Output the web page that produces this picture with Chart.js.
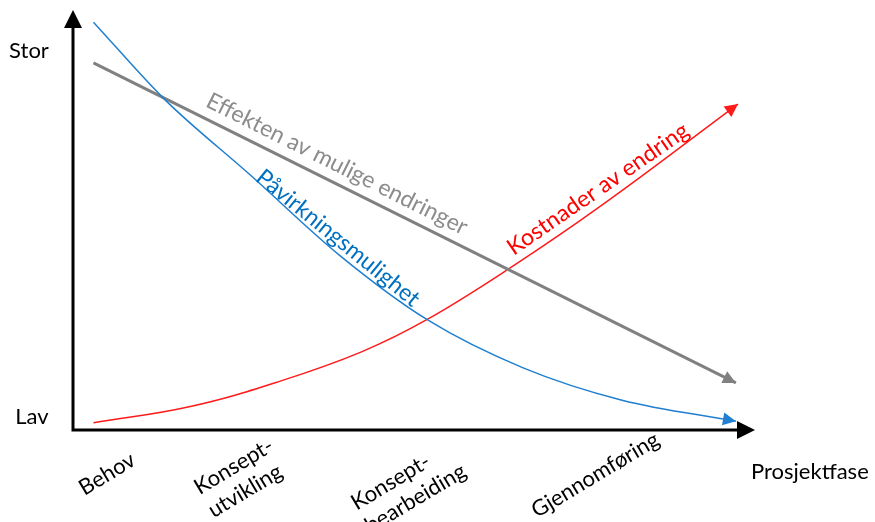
<!DOCTYPE html>
<html>
<head>
<meta charset="utf-8">
<script src="https://cdn.jsdelivr.net/npm/chart.js@4"></script>
<style>
  html, body { margin: 0; padding: 0; background: #fff; }
  #wrap { width: 875px; height: 522px; }
</style>
</head>
<body>
<div id="wrap"><canvas id="myChart"></canvas></div>
<script>
// kategorier langs x-aksen (prosjektfaser) og y-aksen
var xLabels = [['Behov'], ['Konsept-', 'utvikling'], ['Konsept-', 'bearbeiding'], ['Gjennomføring']];
var xLabelPos = [5.0, 24.6, 49.2, 76.6];
var yLabels = ['Lav', 'Stor'];
var xTitle = 'Prosjektfase';

// kurvene (verdier 0-100)
var paavirkX = [3, 13.5, 26, 39, 52, 66, 80.5, 97.2];
var paavirkY = [97.1, 78.6, 60.7, 41.7, 26.2, 14.8, 7.1, 2.1];

var effektX = [3, 97.2];
var effektY = [87.4, 11.2];

var kostX = [3, 17.2, 30.5, 42.3, 51.8, 64.1, 77.6, 97.5];
var kostY = [1.7, 5.6, 11.7, 18.6, 26.2, 38.6, 53.6, 77.6];

var FONT = 'Lato, "Open Sans", sans-serif';

function pts(xs, ys) {
    return xs.map(function(x, i) { return { x: x, y: ys[i] }; });
}

// tegner akser med piler, tekst og pilspisser
var decor = {
    id: 'decor',
    afterDatasetsDraw: function(chart) {
        var ctx = chart.ctx;
        var xs = chart.scales.x, ys = chart.scales.y;
        var left = xs.getPixelForValue(0), bottom = ys.getPixelForValue(0);
        var right = xs.getPixelForValue(100), top = ys.getPixelForValue(100);

        ctx.save();
        // akser
        ctx.strokeStyle = '#000';
        ctx.lineWidth = 3;
        ctx.beginPath();
        ctx.moveTo(left, bottom + 1.5);
        ctx.lineTo(left, top + 14);
        ctx.moveTo(left - 1.5, bottom);
        ctx.lineTo(right - 14, bottom);
        ctx.stroke();
        arrow(ctx, left, top + 20, left, top, 18, 9, '#000');
        arrow(ctx, right - 20, bottom, right, bottom, 18, 9, '#000');

        // pilspisser på kurvene
        chart.data.datasets.forEach(function(ds, i) {
            var meta = chart.getDatasetMeta(i);
            var n = meta.data.length;
            var p = meta.data[n - 1], q = meta.data[n - 2];
            var useCp = p.cp1x !== undefined && Math.abs(p.cp1x - p.x) > 0.5;
            arrow(ctx, useCp ? p.cp1x : q.x, useCp ? p.cp1y : q.y, p.x, p.y, 13, 6.5, ds.borderColor);
        });

        // akseetiketter
        ctx.fillStyle = '#000';
        ctx.font = '22px ' + FONT;
        ctx.textAlign = 'center';
        ctx.textBaseline = 'middle';
        ctx.fillText(yLabels[1], 29, 51);
        ctx.fillText(yLabels[0], 32, 417);
        ctx.textAlign = 'left';
        ctx.fillText(xTitle, 751, 472);

        var centersY = [474, 478, 487, 475];
        xLabels.forEach(function(lines, i) {
            var cx = xs.getPixelForValue(xLabelPos[i]);
            var cy = centersY[i];
            var w = Math.max.apply(null, lines.map(function(t) { return ctx.measureText(t).width; }));
            ctx.save();
            ctx.translate(cx, cy);
            ctx.rotate(-31 * Math.PI / 180);
            ctx.textAlign = 'left';
            lines.forEach(function(t, k) {
                ctx.fillText(t, -w / 2, (k - (lines.length - 1) / 2) * 27);
            });
            ctx.restore();
        });

        // kurvetekster
        rotText(ctx, 'Effekten av mulige endringer', 337, 164, 26.6, '#8c8c8c');
        rotText(ctx, 'Påvirkningsmulighet', 338, 238, 39, '#0070c0');
        rotText(ctx, 'Kostnader av endring', 598, 189, -34.5, '#ff0000');
        ctx.restore();
    }
};

function rotText(ctx, t, x, y, deg, color) {
    ctx.save();
    ctx.translate(x, y);
    ctx.rotate(deg * Math.PI / 180);
    ctx.fillStyle = color;
    ctx.font = '23px ' + FONT;
    ctx.textAlign = 'center';
    ctx.textBaseline = 'middle';
    ctx.fillText(t, 0, 0);
    ctx.restore();
}

function arrow(ctx, fx, fy, tx, ty, len, half, color) {
    var a = Math.atan2(ty - fy, tx - fx);
    ctx.save();
    ctx.fillStyle = color;
    ctx.translate(tx, ty);
    ctx.rotate(a);
    ctx.beginPath();
    ctx.moveTo(0, 0);
    ctx.lineTo(-len, -half);
    ctx.lineTo(-len, half);
    ctx.closePath();
    ctx.fill();
    ctx.restore();
}

document.addEventListener("DOMContentLoaded", function() {
    var ctx = document.getElementById('myChart').getContext('2d');
    new Chart(ctx, {
        type: 'line',
        data: {
            datasets: [{
                label: 'Påvirkningsmulighet',
                data: pts(paavirkX, paavirkY),
                borderColor: '#1f7fd0',
                borderWidth: 1.5,
                cubicInterpolationMode: 'monotone'
            }, {
                label: 'Effekten av mulige endringer',
                data: pts(effektX, effektY),
                borderColor: '#808080',
                borderWidth: 3
            }, {
                label: 'Kostnader av endring',
                data: pts(kostX, kostY),
                borderColor: '#ff1a1a',
                borderWidth: 1.5,
                tension: 0.4
            }]
        },
        options: {
            responsive: true,
            maintainAspectRatio: false,
            animation: false,
            layout: { padding: { left: 73, right: 120, top: 10, bottom: 92 } },
            elements: { point: { radius: 0 } },
            plugins: { legend: { display: false }, tooltip: { enabled: false } },
            scales: {
                x: { type: 'linear', min: 0, max: 100, display: false },
                y: { min: 0, max: 100, display: false }
            }
        },
        plugins: [decor]
    });
});
</script>
</body>
</html>
